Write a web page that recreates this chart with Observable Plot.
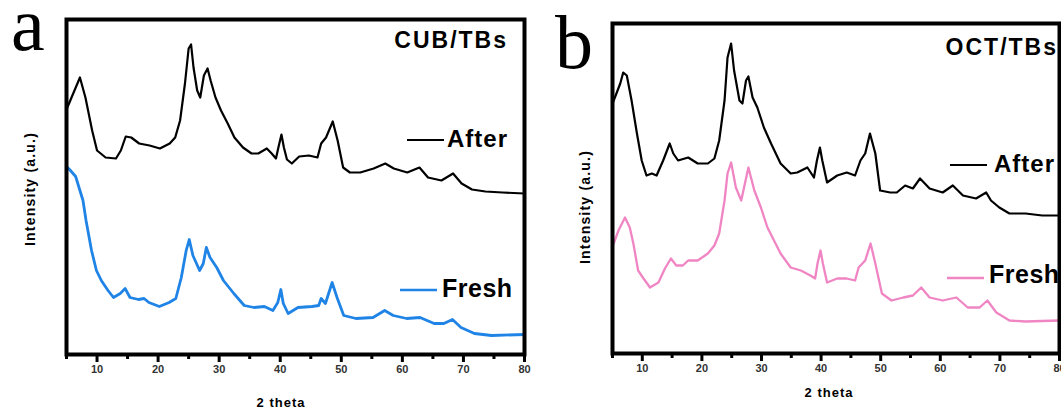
<!DOCTYPE html>
<html>
<head>
<meta charset="utf-8">
<script src="https://cdn.jsdelivr.net/npm/d3@7"></script>
<script src="https://cdn.jsdelivr.net/npm/@observablehq/plot@0.6"></script>
<style>
  html, body { margin: 0; padding: 0; background: #fff; }
  #wrap { position: relative; width: 1061px; height: 410px; overflow: hidden; background: #fff; }
  .panel { position: absolute; top: 0; }
  #overlay { position: absolute; left: 0; top: 0; }
  g[aria-label="x-axis tick label"] { fill: #333; }
</style>
</head>
<body>
<div id="wrap">
  <div id="left" class="panel" style="left:0px"></div>
  <div id="right" class="panel" style="left:545px"></div>
  <svg id="overlay" width="1061" height="410"></svg>
</div>
<script>
// ---- Data (2 theta in degrees, intensity in arbitrary units) ----
const cubAfterX = [5.0,7.2,8.1,9.2,10.0,11.4,13.1,13.9,14.7,15.6,16.9,18.6,20.3,21.9,22.8,23.6,24.4,25.0,25.4,25.8,26.4,26.9,27.5,28.1,28.6,29.4,30.3,31.4,32.5,33.9,35.3,36.4,37.8,38.6,39.3,39.7,40.2,40.6,41.1,41.9,43.1,44.7,46.1,46.7,47.5,48.6,49.4,50.3,51.4,53.1,55.3,57.2,58.6,60.8,62.8,64.2,66.4,68.3,69.7,71.4,73.6,76.4,80.0];
const cubAfterY = [245,277,257,224,204,197,196,204,218,217,211,209,206,211,217,234,271,306,310,287,264,257,279,286,274,257,244,231,217,207,201,201,206,201,196,207,220,207,195,191,198,199,197,211,217,233,214,187,182,182,186,191,186,182,187,177,174,181,171,165,163,162,161];

const cubFreshX = [5.0,5.5,6.5,7.2,7.7,8.2,9.1,9.9,10.7,11.8,12.7,13.8,14.6,15.4,16.8,17.7,18.5,20.2,21.8,22.9,23.8,24.6,25.1,25.7,26.8,27.4,27.9,28.5,29.6,30.7,32.4,34.1,35.7,37.4,38.8,39.6,40.1,40.5,41.3,42.9,45.2,46.3,46.7,47.4,48.5,49.3,50.4,52.4,55.2,57.1,58.5,60.7,62.9,65.2,66.8,68.2,69.6,71.8,74.6,80.0];
const cubFreshY = [188,185,178,164,154,134,104,84,74,64,57,61,66,57,55,56,52,48,52,56,77,104,115,99,84,91,107,97,87,74,61,49,47,48,44,52,65,51,41,47,48,49,56,51,72,57,39,36,37,44,39,36,37,31,31,35,27,21,19,20];

const octAfterX = [5.0,5.4,6.3,6.8,7.4,8.2,9.1,9.9,10.7,11.6,12.4,13.5,14.6,15.2,16.0,17.7,19.3,21.0,22.1,22.9,23.8,24.3,24.9,25.4,26.3,26.8,27.4,27.8,28.5,29.3,30.4,31.6,33.2,34.9,36.0,37.7,38.8,39.3,39.8,40.2,41.0,42.7,44.3,45.7,46.6,47.4,48.2,49.1,49.9,51.6,52.7,54.1,55.4,56.6,58.2,60.4,62.1,63.8,66.0,67.7,68.5,69.9,71.6,74.3,77.1,80.0];
const octAfterY = [250,256,270,281,278,253,220,193,178,180,178,193,210,200,193,196,190,190,195,213,253,296,310,283,253,250,273,277,256,246,226,210,190,180,181,186,176,193,206,193,171,178,181,178,193,200,220,200,163,161,161,168,165,175,165,161,168,158,155,161,153,146,140,140,138,138];

const octFreshX = [5.0,5.2,6.0,7.1,7.9,8.5,9.3,10.2,11.3,12.7,13.8,14.8,15.7,16.8,17.7,19.3,21.0,22.1,22.9,23.8,24.3,24.9,25.7,26.6,27.8,28.8,29.9,31.0,32.1,33.2,34.9,36.6,38.2,39.0,39.4,39.9,40.3,41.0,42.7,44.3,45.7,46.3,47.4,48.3,49.1,50.2,51.8,53.8,55.4,56.8,58.2,60.4,62.7,64.6,66.6,67.9,69.4,71.6,74.3,80.0];
const octFreshY = [108,110,123,136,126,110,83,75,66,71,85,95,88,88,93,93,100,108,120,153,180,191,166,153,186,163,146,126,113,100,86,83,78,75,90,103,90,71,75,75,73,86,93,110,90,60,53,56,58,66,56,53,56,46,46,53,41,33,32,33];

const majorTicks = [10,20,30,40,50,60,70,80];
const minorTicks = [5,15,25,35,45,55,65,75];

const blue = "#1f84e6";
const pink = "#f085c4";

function series(xs, ys) { return xs.map((x, i) => ({x, y: ys[i]})); }

function panel(opts) {
  return Plot.plot({
    width: opts.width,
    height: 410,
    marginLeft: opts.ml,
    marginRight: opts.mr,
    marginTop: opts.mt,
    marginBottom: opts.mb,
    x: {domain: [5, 80]},
    y: {domain: [0, opts.ymax], axis: null},
    style: {fontFamily: "'Liberation Sans', Arial, sans-serif", fontSize: "11px", fontWeight: "bold", background: "transparent", overflow: "visible"},
    marks: [
      Plot.line(series(opts.afterX, opts.afterY), {x: "x", y: "y", stroke: "black", strokeWidth: 2.2}),
      Plot.line(series(opts.freshX, opts.freshY), {x: "x", y: "y", stroke: opts.freshColor, strokeWidth: opts.freshWidth}),
      Plot.axisX({ticks: minorTicks, tickSize: 5, strokeWidth: 3, tickFormat: () => "", label: null}),
      Plot.axisX({ticks: majorTicks, tickSize: 8, strokeWidth: 3, tickPadding: 3, tickFormat: d => String(d), label: null}),
      Plot.frame({stroke: "black", strokeWidth: 4})
    ]
  });
}

document.getElementById("left").append(panel({
  width: 530, ml: 66, mr: 6, mt: 19, mb: 56, ymax: 335,
  afterX: cubAfterX, afterY: cubAfterY, freshX: cubFreshX, freshY: cubFreshY,
  freshColor: blue, freshWidth: 2.8
}));
document.getElementById("right").append(panel({
  width: 516, ml: 67, mr: 2, mt: 23, mb: 57, ymax: 330,
  afterX: octAfterX, afterY: octAfterY, freshX: octFreshX, freshY: octFreshY,
  freshColor: pink, freshWidth: 2.3
}));

// ---- Text overlay ----
const svg = d3.select("#overlay");
const sans = "'Liberation Sans', Arial, sans-serif";
const serif = "'Liberation Serif', 'Times New Roman', serif";
function txt(x, y, s, o = {}) {
  const t = svg.append("text").attr("x", x).attr("y", y).text(s)
    .attr("font-family", o.family || sans)
    .attr("font-size", o.size || 13)
    .attr("font-weight", o.weight || "bold")
    .attr("fill", o.fill || "black")
    .attr("text-anchor", o.anchor || "start");
  if (o.ls) t.attr("letter-spacing", o.ls);
  if (o.rotate) t.attr("transform", `rotate(-90 ${x} ${y})`);
  return t;
}
function legendLine(x1, x2, y, color, w) {
  svg.append("line").attr("x1", x1).attr("x2", x2).attr("y1", y).attr("y2", y)
    .attr("stroke", color).attr("stroke-width", w);
}

txt(11, 50, "a", {family: serif, size: 76, weight: "normal"});
txt(555, 68, "b", {family: serif, size: 76, weight: "normal"});

txt(508, 48, "CUB/TBs", {size: 23, anchor: "end", ls: 2});
txt(1058, 55, "OCT/TBs", {size: 23, anchor: "end", ls: 2});

legendLine(407, 444, 140, "black", 2);
txt(447, 147, "After", {size: 24, ls: 1});
legendLine(400, 437, 290, blue, 2.5);
txt(442, 297, "Fresh", {size: 25, ls: 0.5});

legendLine(950, 987, 165, "black", 2);
txt(994, 172, "After", {size: 24, ls: 1});
legendLine(947, 984, 278, pink, 2.5);
txt(989, 283, "Fresh", {size: 25, ls: 0.5});

txt(35, 189, "Intensity (a.u.)", {size: 14, anchor: "middle", rotate: true, ls: 1.2});
txt(590, 207, "Intensity (a.u.)", {size: 14, anchor: "middle", rotate: true, ls: 1.2});

txt(281, 407, "2 theta", {size: 13, anchor: "middle", ls: 1});
txt(829, 397, "2 theta", {size: 13, anchor: "middle", ls: 1});
</script>
</body>
</html>
